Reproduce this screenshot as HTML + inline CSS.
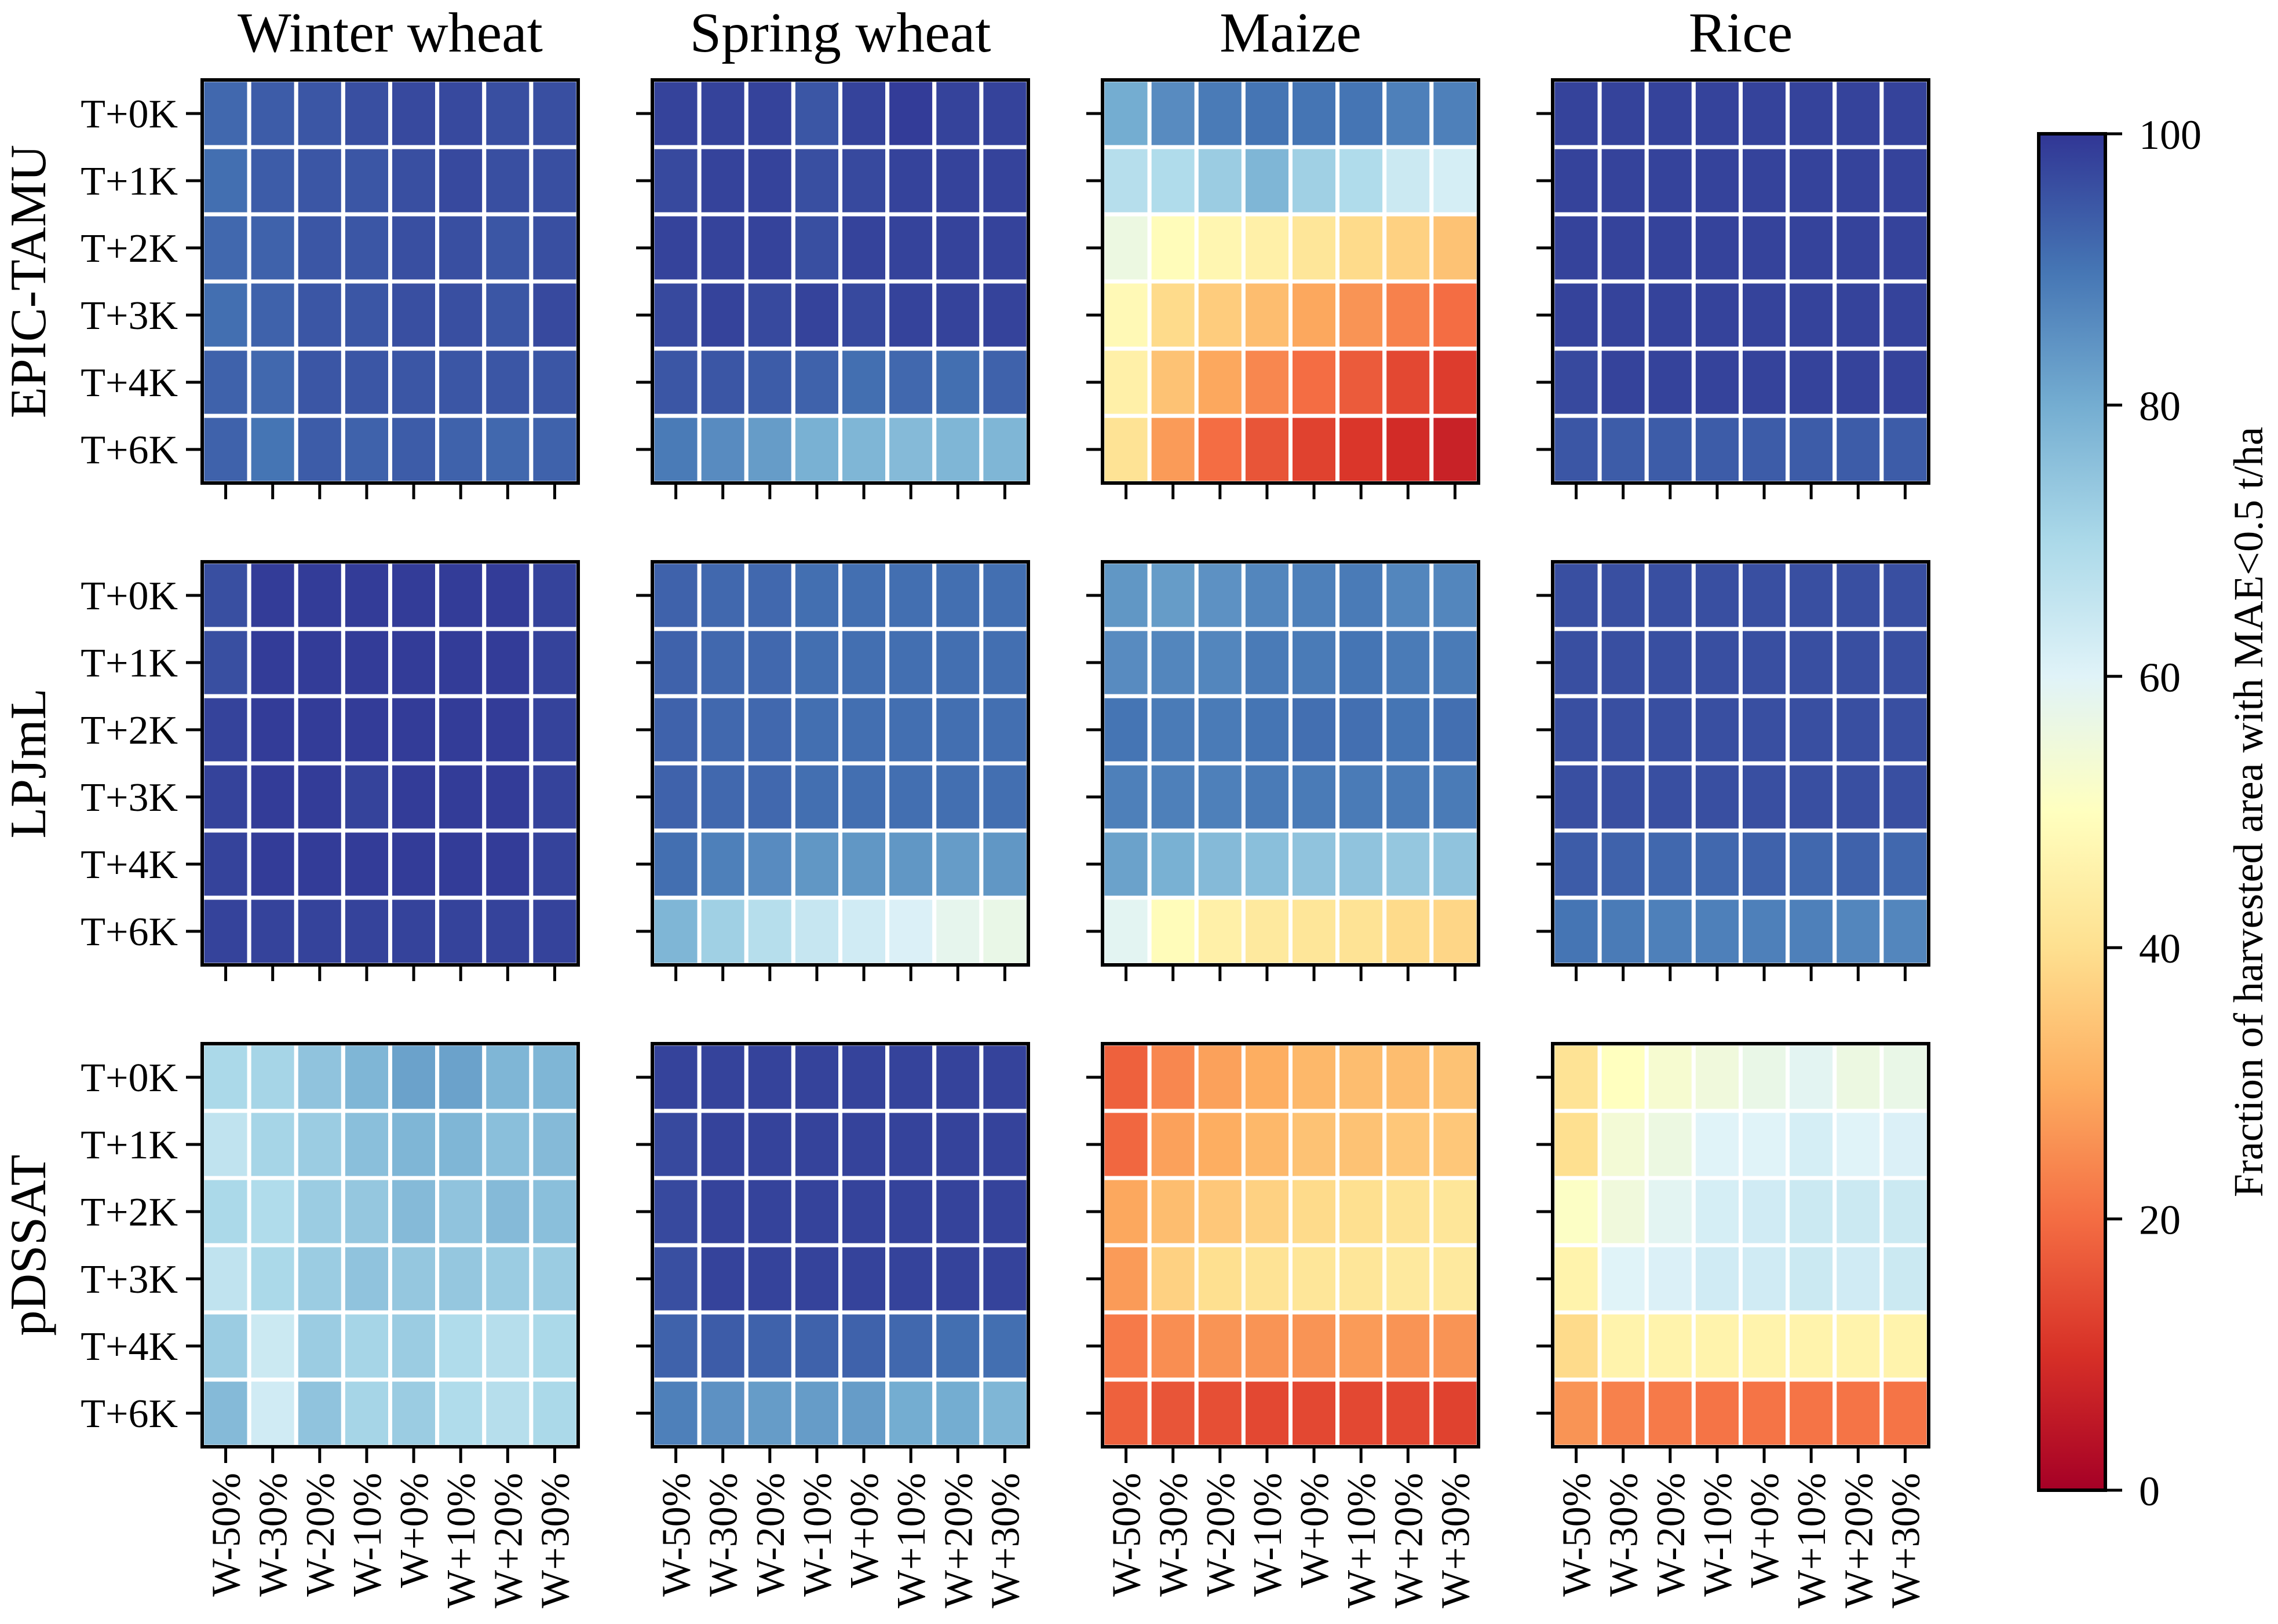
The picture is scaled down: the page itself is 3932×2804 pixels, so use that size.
<!DOCTYPE html>
<html><head><meta charset="utf-8">
<style>
html,body{margin:0;padding:0;background:#fff;}
svg{display:block;}
svg text{font-family:"Liberation Serif","Times New Roman",serif;}
</style></head>
<body>
<svg id="chart" width="3932" height="2804" viewBox="0 0 3932 2804" xmlns="http://www.w3.org/2000/svg" font-family="Liberation Serif, serif">
<defs>
<linearGradient id="cbgrad" x1="0" y1="1" x2="0" y2="0">
<stop offset="0" stop-color="#a50026"/><stop offset="0.1" stop-color="#d73027"/><stop offset="0.2" stop-color="#f46d43"/><stop offset="0.3" stop-color="#fdae61"/><stop offset="0.4" stop-color="#fee090"/><stop offset="0.5" stop-color="#ffffbf"/><stop offset="0.6" stop-color="#e0f3f8"/><stop offset="0.7" stop-color="#abd9e9"/><stop offset="0.8" stop-color="#74add1"/><stop offset="0.9" stop-color="#4575b4"/><stop offset="1" stop-color="#313695"/>
</linearGradient>
</defs>
</svg>
<script>
const crops = ["Winter wheat","Spring wheat","Maize","Rice"];
const models = ["EPIC-TAMU","LPJmL","pDSSAT"];
const tempLabels = ["T+0K","T+1K","T+2K","T+3K","T+4K","T+6K"];
const waterLabels = ["W-50%","W-30%","W-20%","W-10%","W+0%","W+10%","W+20%","W+30%"];
const cbTicks = [0,20,40,60,80,100];

const epicWinterWheat = [[92,94,95,96,97,97,96,96],[91,94,95,95,96,97,96,96],[92,93,95,95,96,96,95,96],[91,93,95,95,96,96,95,97],[93,92,95,95,95,95,95,95],[93,90,94,93,94,93,92,93]];
const epicSpringWheat = [[98,98,98,95,98,99,98,98],[97,98,98,96,97,98,98,98],[98,98,98,96,98,98,98,98],[97,98,97,98,97,98,98,98],[95,95,94,93,91,92,91,93],[89,86,83,79,78,77,78,78]];
const epicMaize = [[80,86,89,90,90,90,88,88],[68,69,73,78,72,69,64,62],[56,49,47,45,42,39,37,34],[48,39,36,33,29,26,23,20],[45,34,29,24,20,17,14,12],[41,27,20,16,13,11,9,7]];
const epicRice = [[98,98,98,98,98,98,98,98],[98,98,98,98,98,98,98,98],[98,98,98,98,98,98,98,98],[98,98,98,98,98,98,98,98],[97,98,98,98,98,98,98,98],[95,94,94,94,94,94,94,94]];
const lpjWinterWheat = [[96,99,99,99,99,99,99,98],[96,99,99,99,99,99,99,98],[98,99,99,99,99,99,99,98],[98,99,99,98,99,99,99,98],[98,99,99,99,99,99,99,98],[98,98,98,98,98,98,98,98]];
const lpjSpringWheat = [[93,92,92,91,91,91,91,91],[93,92,92,91,91,91,91,91],[93,92,92,91,91,91,91,91],[93,92,92,91,91,91,91,91],[91,88,86,84,84,84,83,84],[78,72,68,65,63,61,58,57]];
const lpjMaize = [[84,83,85,87,88,89,87,87],[86,87,87,89,89,90,89,89],[90,89,89,90,91,91,90,91],[88,88,88,89,89,89,89,89],[82,79,77,76,75,75,74,75],[59,49,45,43,42,41,39,38]];
const lpjRice = [[96,96,96,96,96,96,96,96],[96,96,96,96,96,96,96,96],[96,96,96,96,96,96,96,96],[96,96,96,96,96,96,96,96],[94,93,92,92,93,92,93,92],[90,89,88,88,88,88,87,87]];
const dssatWinterWheat = [[70,71,75,78,82,82,78,78],[66,71,73,76,78,78,76,77],[70,69,73,74,77,75,77,76],[66,70,73,75,74,74,73,73],[73,64,73,71,73,69,68,70],[77,63,75,71,73,69,68,70]];
const dssatSpringWheat = [[98,98,98,98,98,98,98,98],[97,98,98,98,98,98,98,98],[97,98,98,98,98,98,98,98],[96,98,98,98,98,98,98,98],[93,94,93,93,93,92,91,91],[88,85,83,83,83,80,80,78]];
const dssatMaize = [[18,24,28,30,32,33,33,34],[19,28,30,32,34,34,35,35],[29,33,35,37,39,40,41,42],[27,37,40,41,42,42,43,43],[22,25,26,26,26,27,26,26],[18,16,15,14,14,14,14,13]];
const dssatRice = [[41,50,53,55,57,59,56,57],[40,54,56,60,60,62,60,61],[51,55,59,62,63,64,64,64],[46,60,61,63,63,64,63,64],[39,46,46,46,46,46,46,46],[26,23,22,21,21,21,21,21]];

const panels = [
  [epicWinterWheat, epicSpringWheat, epicMaize, epicRice],
  [lpjWinterWheat, lpjSpringWheat, lpjMaize, lpjRice],
  [dssatWinterWheat, dssatSpringWheat, dssatMaize, dssatRice]
];

const NS = "http://www.w3.org/2000/svg";
const svg = document.getElementById("chart");
const anchors = ["#a50026","#d73027","#f46d43","#fdae61","#fee090","#ffffbf","#e0f3f8","#abd9e9","#74add1","#4575b4","#313695"];
function hex(h){return [parseInt(h.substr(1,2),16),parseInt(h.substr(3,2),16),parseInt(h.substr(5,2),16)];}
function cmap(v){
  let t = Math.max(0,Math.min(100,v))/10;
  let i = Math.min(9,Math.floor(t)); let f = t-i;
  const a = hex(anchors[i]), b = hex(anchors[i+1]);
  return "rgb("+a.map((c,k)=>Math.round(c+(b[k]-c)*f)).join(",")+")";
}
function mk(tag, attrs, parent){
  const e = document.createElementNS(NS, tag);
  for (const k in attrs) e.setAttribute(k, attrs[k]);
  if (tag === "text") e.setAttribute("font-family", "Liberation Serif, serif");
  (parent||svg).appendChild(e);
  return e;
}
const PX0 = 349, PDX = 777, PW = 649;
const PY0 = 138, PDY = 832, PH = 696;
const nC = 8, nR = 6;
function xScale(col, panelX){ return panelX + col*PW/nC; }
function yScale(row, panelY){ return panelY + row*PH/nR; }

for (let m=0;m<models.length;m++){
  const py = PY0 + m*PDY;
  const rl = mk("text",{x:0,y:0,"font-size":88,"text-anchor":"middle",transform:"translate(78,"+(py+PH/2)+") rotate(-90)"});
  
  
  rl.textContent = models[m];
  for (let c=0;c<crops.length;c++){
    const px = PX0 + c*PDX;
    const g = mk("g",{});
    
    
    const data = panels[m][c];
    for (let r=0;r<nR;r++){
      for (let k=0;k<nC;k++){
        const x0 = xScale(k,px), x1 = xScale(k+1,px), y0 = yScale(r,py), y1 = yScale(r+1,py);
        const cell = mk("rect",{x:x0,y:y0,width:x1-x0,height:y1-y0,fill:cmap(data[r][k]),stroke:"#fff","stroke-width":7},g);
        
        
      }
    }
    mk("rect",{x:px,y:py,width:PW,height:PH,fill:"none",stroke:"#000","stroke-width":6},g);
    for (let r=0;r<nR;r++){
      const yc = (yScale(r,py)+yScale(r+1,py))/2;
      mk("line",{x1:px-28,x2:px,y1:yc,y2:yc,stroke:"#000","stroke-width":5},g);
      if (c===0){
        const t = mk("text",{x:px-42,y:yc+24,"font-size":70,"text-anchor":"end"},g);
        
        
        t.textContent = tempLabels[r];
      }
    }
    for (let k=0;k<nC;k++){
      const xc = (xScale(k,px)+xScale(k+1,px))/2;
      mk("line",{x1:xc,x2:xc,y1:py+PH,y2:py+PH+28,stroke:"#000","stroke-width":5},g);
      if (m===models.length-1){
        const t = mk("text",{x:0,y:0,"font-size":70,"text-anchor":"end",transform:"translate("+(xc+24)+","+(py+PH+45)+") rotate(-90)"},g);
        
        
        t.textContent = waterLabels[k];
      }
    }
    if (m===0){
      const t = mk("text",{x:px+PW/2,y:89,"font-size":98,"text-anchor":"middle"},g);
      
      
      t.textContent = crops[c];
    }
  }
}
// colorbar
const CBX = 3519, CBW = 115, CBY = 231, CBH = 2342;
function cbY(v){ return CBY + CBH*(1 - v/100); }
const cb = mk("g",{});


mk("rect",{x:CBX,y:CBY,width:CBW,height:CBH,fill:"url(#cbgrad)",stroke:"#000","stroke-width":6},cb);
for (const v of cbTicks){
  const y = cbY(v);
  mk("line",{x1:CBX+CBW,x2:CBX+CBW+29,y1:y,y2:y,stroke:"#000","stroke-width":5},cb);
  const t = mk("text",{x:CBX+CBW+58,y:y+26,"font-size":72},cb);
  
  
  t.textContent = v;
}
const cl = mk("text",{x:0,y:0,"font-size":72,"text-anchor":"middle",transform:"translate(3905,"+(CBY+CBH/2)+") rotate(-90)"},cb);


cl.textContent = "Fraction of harvested area with MAE<0.5 t/ha";
</script>
</body></html>
